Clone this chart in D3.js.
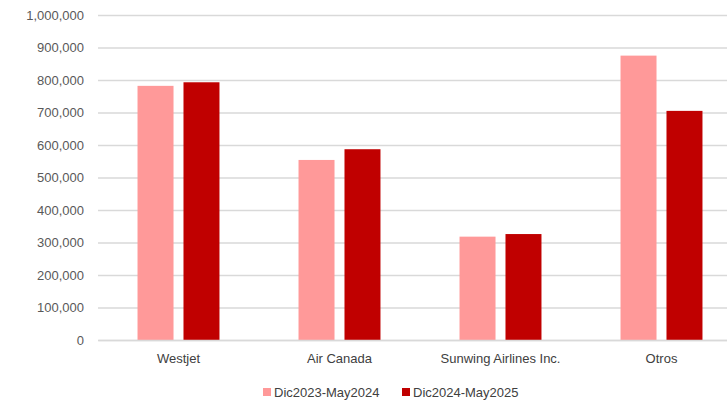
<!DOCTYPE html>
<html><head><meta charset="utf-8">
<script src="https://cdn.jsdelivr.net/npm/d3@7"></script>
<style>
html,body{margin:0;padding:0;background:#fff;}
svg{display:block;font-family:"Liberation Sans",Arial,sans-serif;}
</style></head>
<body><svg id="c" width="727" height="401"></svg>
<script>
const categories = ["Westjet", "Air Canada", "Sunwing Airlines Inc.", "Otros"];
const seriesNames = ["Dic2023-May2024", "Dic2024-May2025"];
const series2024 = [782000, 554000, 318000, 875000];
const series2025 = [793000, 587000, 326000, 705000];
const yTicks = [0,100000,200000,300000,400000,500000,600000,700000,800000,900000,1000000];
const colors = ["#FF9999", "#C00000"];

const svg = d3.select("#c");
const y = d3.scaleLinear().domain([0, 1000000]).range([340, 15]);
const x = d3.scaleBand().domain(categories).range([98, 742]).paddingInner(0).paddingOuter(0);
const xs = d3.scaleBand().domain(seriesNames).range([0, x.bandwidth()]).paddingInner(0.217).paddingOuter(0.86);

const yAxis = d3.axisLeft(y).tickValues(yTicks).tickSize(-(742-98)).tickPadding(14).tickFormat(d3.format(","));
const gy = svg.append("g").attr("transform","translate(98,0)").call(yAxis);
gy.select(".domain").remove();
gy.selectAll(".tick line").attr("stroke","#d9d9d9").attr("stroke-width",1.3);
gy.selectAll(".tick text").attr("fill","#595959").attr("font-size","13px");

const data = categories.map((c,i)=>({c, vals:[series2024[i], series2025[i]]}));
const groups = svg.append("g").selectAll("g").data(data).join("g")
  .attr("transform", d=>`translate(${x(d.c)},0)`);
groups.selectAll("rect").data(d=>d.vals.map((v,j)=>({v, s:seriesNames[j], j})))
  .join("rect")
  .attr("x", d=>xs(d.s)).attr("width", xs.bandwidth())
  .attr("y", d=>y(d.v)).attr("height", d=>y(0)-y(d.v))
  .attr("fill", d=>colors[d.j]);

const xAxis = d3.axisBottom(x).tickSize(0).tickPadding(14);
const gx = svg.append("g").attr("transform","translate(0,340)").call(xAxis);
gx.select(".domain").attr("stroke","#d9d9d9").attr("stroke-width",1.3);
gx.selectAll(".tick text").attr("fill","#404040").attr("font-size","13px");

const legX = [263, 402];
const leg = svg.append("g").selectAll("g").data(seriesNames).join("g")
  .attr("transform",(d,i)=>`translate(${legX[i]},392)`);
leg.append("rect").attr("x",0).attr("y",-4).attr("width",8).attr("height",8).attr("fill",(d,i)=>colors[i]);
leg.append("text").attr("x",11).attr("y",0).attr("dy","0.35em").attr("font-size","13px").attr("fill","#404040").text(d=>d);
</script></body></html>
